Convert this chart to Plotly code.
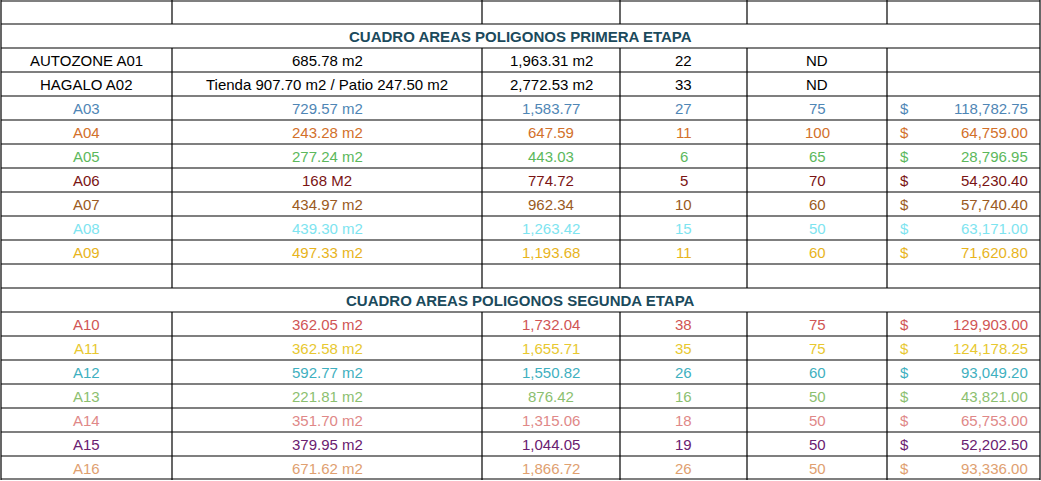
import plotly.graph_objects as go

names1 = ["AUTOZONE A01", "HAGALO A02", "A03", "A04", "A05", "A06", "A07", "A08", "A09"]
areas1 = ["685.78 m2", "Tienda 907.70 m2 / Patio 247.50 m2", "729.57 m2", "243.28 m2", "277.24 m2",
          "168 M2", "434.97 m2", "439.30 m2", "497.33 m2"]
col3_1 = ["1,963.31 m2", "2,772.53 m2", "1,583.77", "647.59", "443.03", "774.72", "962.34", "1,263.42", "1,193.68"]
col4_1 = ["22", "33", "27", "11", "6", "5", "10", "15", "11"]
col5_1 = ["ND", "ND", "75", "100", "65", "70", "60", "50", "60"]
price1 = ["", "", "118,782.75", "64,759.00", "28,796.95", "54,230.40", "57,740.40", "63,171.00", "71,620.80"]
colors1 = ["#000000", "#000000", "#4f86b5", "#d2702a", "#5cb85c", "#7a1414", "#9a5a22", "#7ee4f0", "#e8b41c"]

names2 = ["A10", "A11", "A12", "A13", "A14", "A15", "A16"]
areas2 = ["362.05 m2", "362.58 m2", "592.77 m2", "221.81 m2", "351.70 m2", "379.95 m2", "671.62 m2"]
col3_2 = ["1,732.04", "1,655.71", "1,550.82", "876.42", "1,315.06", "1,044.05", "1,866.72"]
col4_2 = ["38", "35", "26", "16", "18", "19", "26"]
col5_2 = ["75", "75", "60", "50", "50", "50", "50"]
price2 = ["129,903.00", "124,178.25", "93,049.20", "43,821.00", "65,753.00", "52,202.50", "93,336.00"]
colors2 = ["#d05555", "#e8c830", "#3fb0c0", "#8cc070", "#e08888", "#6a2070", "#e0a070"]

title1 = "CUADRO AREAS POLIGONOS PRIMERA ETAPA"
title2 = "CUADRO AREAS POLIGONOS SEGUNDA ETAPA"

xb = [1, 172, 482, 620, 747, 887, 1040]
RH = 24
FONT = "Liberation Sans Narrow, Liberation Sans, sans-serif"

shapes, ann = [], []

def hline(y):
    shapes.append(dict(type="line", x0=1, x1=1040, y0=y, y1=y, line=dict(color="black", width=1.2)))

def vlines(r):
    for x in xb:
        shapes.append(dict(type="line", x0=x, x1=x, y0=r * RH, y1=(r + 1) * RH, line=dict(color="black", width=1.2)))

def text(x, y, s, color, anchor="center", bold=False):
    ann.append(dict(x=x, y=y, text=("<b>%s</b>" % s) if bold else s, showarrow=False, xanchor=anchor,
                    font=dict(family=FONT, size=15, color=color)))

def header(r, t):
    for x in (1, 1040):
        shapes.append(dict(type="line", x0=x, x1=x, y0=r * RH, y1=(r + 1) * RH, line=dict(color="black", width=1.2)))
    text(520, r * RH + 12, t, "#1b4a5c", bold=True)

def datarow(r, cells, price, color):
    vlines(r)
    yc = r * RH + 12
    for i, s in enumerate(cells):
        text((xb[i] + xb[i + 1]) / 2, yc, s, color)
    if price:
        text(898, yc, "$", color, anchor="left")
        text(1030, yc, price, color, anchor="right")

for r in range(21):
    hline(r * RH + (1 if r == 0 else 0) - (1 if r == 20 else 0))
vlines(0)
header(1, title1)
r = 2
for i in range(len(names1)):
    datarow(r, [names1[i], areas1[i], col3_1[i], col4_1[i], col5_1[i]], price1[i], colors1[i])
    r += 1
vlines(r); r += 1
header(r, title2); r += 1
for i in range(len(names2)):
    datarow(r, [names2[i], areas2[i], col3_2[i], col4_2[i], col5_2[i]], price2[i], colors2[i])
    r += 1

fig = go.Figure()
fig.update_layout(width=1041, height=481, margin=dict(l=0, r=0, t=0, b=0),
                  paper_bgcolor="white", plot_bgcolor="white", shapes=shapes, annotations=ann,
                  xaxis=dict(range=[0, 1041], visible=False, fixedrange=True),
                  yaxis=dict(range=[481, 0], visible=False, fixedrange=True), showlegend=False)
fig.write_html("out.html", config={"displayModeBar": False},
               post_script="document.body.style.margin='0';document.body.style.overflow='hidden';")
